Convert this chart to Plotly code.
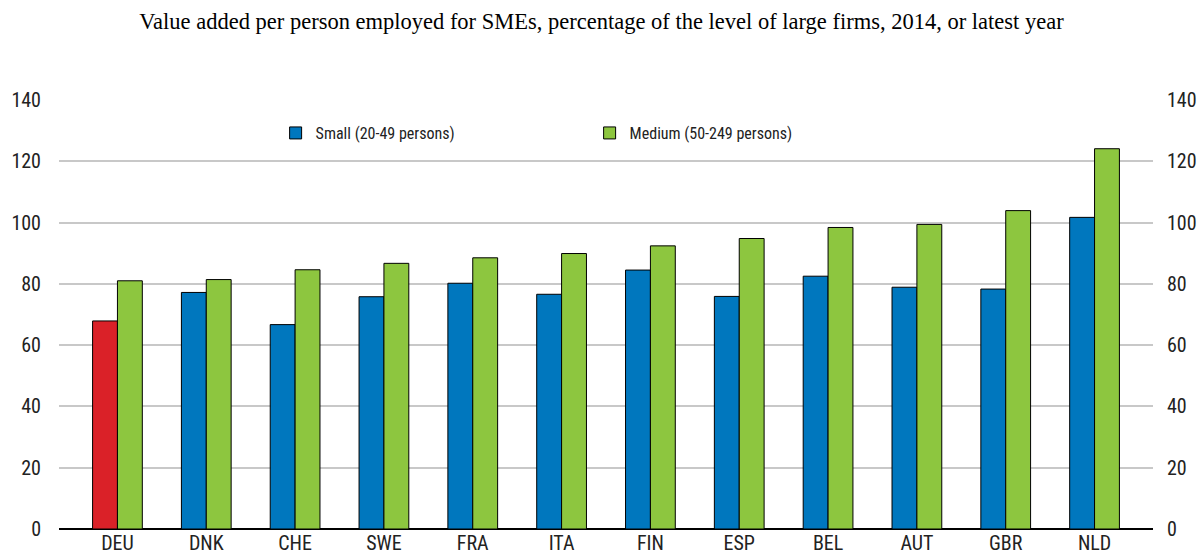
import plotly.graph_objects as go

countries = ["DEU", "DNK", "CHE", "SWE", "FRA", "ITA", "FIN", "ESP", "BEL", "AUT", "GBR", "NLD"]
small = [67.9, 77.2, 66.7, 75.8, 80.2, 76.6, 84.5, 75.9, 82.5, 78.9, 78.3, 101.7]
medium = [81.0, 81.4, 84.6, 86.7, 88.5, 89.9, 92.4, 94.8, 98.4, 99.4, 103.9, 124.1]
tick_vals = [0, 20, 40, 60, 80, 100, 120, 140]

BLUE = "#0077BE"
GREEN = "#8DC63F"
RED = "#DA2128"
small_colors = [RED if c == "DEU" else BLUE for c in countries]

FONT = "Liberation Sans Narrow, Arial Narrow, Roboto Condensed, Liberation Sans, sans-serif"
TXT = "#222222"

fig = go.Figure()
fig.add_trace(go.Bar(
    x=countries, y=small, name="Small (20-49 persons)", offsetgroup="small",
    marker=dict(color=small_colors, line=dict(color="black", width=1)),
    showlegend=False,
))
# legend proxy with the blue colour (draws nothing)
fig.add_trace(go.Bar(
    x=[countries[0]], y=[None], name="Small (20-49 persons)", offsetgroup="small",
    marker=dict(color=BLUE, line=dict(color="black", width=1)),
    showlegend=True, hoverinfo="skip",
))
fig.add_trace(go.Bar(
    x=countries, y=medium, name="Medium (50-249 persons)", offsetgroup="medium",
    marker=dict(color=GREEN, line=dict(color="black", width=1)),
))
# invisible trace for right axis
fig.add_trace(go.Scatter(x=countries, y=medium, yaxis="y2", mode="markers",
                         marker=dict(opacity=0), showlegend=False, hoverinfo="skip"))

fig.update_layout(
    width=1203, height=554,
    paper_bgcolor="white", plot_bgcolor="white",
    margin=dict(l=59, r=50, t=100, b=25, autoexpand=False),
    barmode="group", bargap=0.44, bargroupgap=0,
    title=dict(text="Value added per person employed for SMEs, percentage of the level of large firms, 2014, or latest year",
               x=0.5, xanchor="center", y=0.962, yanchor="middle",
               font=dict(family="Liberation Serif, Times New Roman, serif", size=22.5, color="black")),
    font=dict(family=FONT, size=20, color=TXT),
    legend=dict(orientation="h", x=0.198, y=0.923, xanchor="left", yanchor="middle",
                entrywidth=269, entrywidthmode="pixels",
                font=dict(family=FONT, size=16, color=TXT),
                bgcolor="rgba(0,0,0,0)", itemwidth=30, traceorder="normal"),
    xaxis=dict(showgrid=False, ticks="", tickfont=dict(family=FONT, size=20, color=TXT),
               showline=False, automargin=False),
    yaxis=dict(range=[0, 140], tickvals=tick_vals, showgrid=True, gridcolor="#C8C8C8", gridwidth=1.5,
               zeroline=True, zerolinecolor="black", zerolinewidth=2, automargin=False,
               ticks="", ticklabelstandoff=17, tickfont=dict(family=FONT, size=20, color=TXT)),
    yaxis2=dict(range=[0, 140], tickvals=tick_vals, overlaying="y", side="right", showgrid=False,
                zeroline=False, ticks="", ticklabelstandoff=13, automargin=False,
                tickfont=dict(family=FONT, size=20, color=TXT)),
    showlegend=True,
)

fig.write_html("out.html", config={"displayModeBar": False},
               post_script="document.body.style.margin='0px';document.body.style.overflow='hidden';")
